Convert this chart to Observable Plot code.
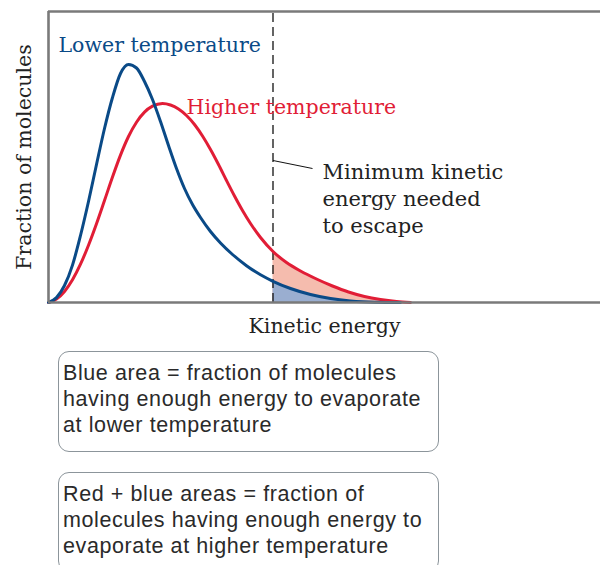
<!DOCTYPE html>
<html>
<head>
<meta charset="utf-8">
<script src="https://cdn.jsdelivr.net/npm/d3@7"></script>
<script src="https://cdn.jsdelivr.net/npm/@observablehq/plot@0.6"></script>
<style>
  html, body { margin: 0; padding: 0; background: #fff; }
  #wrap { position: relative; width: 600px; height: 565px; overflow: hidden; }
  .box {
    position: absolute; left: 58px; width: 381px; box-sizing: border-box;
    border: 1.5px solid #8c959b; border-radius: 11px;
    font-family: "Liberation Sans", Arial, sans-serif; font-size: 21.5px;
    letter-spacing: 0.6px;
    line-height: 26px; color: #2a2a2a; padding: 8px 0 0 4px;
  }
</style>
</head>
<body>
<div id="wrap">
  <div id="chart"></div>
  <div class="box" style="top:351px; height:101px;">Blue area = fraction of molecules<br>having enough energy to evaporate<br>at lower temperature</div>
  <div class="box" style="top:472px; height:100px;">Red + blue areas = fraction of<br>molecules having enough energy to<br>evaporate at higher temperature</div>
</div>
<script>
// Kinetic energy and fraction of molecules, arbitrary units
const energyLow = [0, 8, 16, 24, 32, 40, 48, 56, 64, 72, 80, 88, 96, 104, 112, 120, 128, 136, 144, 152, 162, 172, 184, 198, 212, 224.5, 242, 262, 282, 302, 327, 352];
const fractionLow = [0, 4.9, 17, 37.4, 67, 101, 138, 174, 205, 229, 238, 234.5, 221, 203, 181, 157, 134, 114, 98, 85, 71, 59.5, 48, 36.8, 27.7, 21.2, 14, 8, 4, 1.6, 0.3, 0];
const energyHigh = [0, 8, 16, 24, 32, 40, 48, 56, 64, 72, 80, 88, 96, 104, 114, 122, 130, 138, 146, 154, 162, 170, 178, 186, 194, 202, 212, 224.5, 238, 252, 268, 284, 300, 316, 332, 348, 362];
const fractionHigh = [0, 3.4, 11, 22.7, 38.3, 57.3, 78.8, 102, 125.5, 147.4, 166, 180.3, 190.4, 196.3, 199, 197.5, 193.5, 187, 178, 166.5, 153, 138, 122, 106.5, 92, 79, 65, 51, 40, 31.5, 23.5, 16.5, 10.5, 6, 3, 1, 0];
const threshold = 224.5;
const seriesLabels = ["Lower temperature", "Higher temperature"];
const thresholdLabel = "Minimum kinetic\nenergy needed\nto escape";
const xLabel = "Kinetic energy";
const yLabel = "Fraction of molecules";

const low = energyLow.map((e, i) => ({e, f: fractionLow[i]}));
const high = energyHigh.map((e, i) => ({e, f: fractionHigh[i]}));
const blue = "#0a4a87", red = "#e11d36";
const serif = "DejaVu Serif, serif";

const plot = Plot.plot({
  width: 600,
  height: 345,
  marginLeft: 48,
  marginRight: 0,
  marginTop: 11,
  marginBottom: 43,
  x: {domain: [0, 552], axis: null},
  y: {domain: [0, 291], axis: null},
  style: {fontFamily: serif, background: "transparent"},
  marks: [
    Plot.areaY(high.filter(d => d.e >= threshold), {x: "e", y: "f", fill: "#f5bcae", curve: "monotone-x"}),
    Plot.areaY(low.filter(d => d.e >= threshold), {x: "e", y: "f", fill: "#9aaed0", curve: "monotone-x"}),
    Plot.ruleX([threshold], {y1: 0, y2: 291, stroke: "#111", strokeWidth: 1.3, strokeDasharray: "9,5"}),
    Plot.link([{x1: threshold, y1: 142, x2: 264, y2: 134}], {x1: "x1", y1: "y1", x2: "x2", y2: "y2", stroke: "#111", strokeWidth: 1}),
    Plot.line(high, {x: "e", y: "f", stroke: red, strokeWidth: 3, curve: "monotone-x"}),
    Plot.line(low, {x: "e", y: "f", stroke: blue, strokeWidth: 3, curve: "monotone-x"}),
    Plot.ruleX([0], {stroke: "#7a7a7a", strokeWidth: 2.6}),
    Plot.ruleY([0, 291], {stroke: "#7a7a7a", strokeWidth: 2.6}),
    Plot.text([seriesLabels[0]], {x: 10, y: 251, text: d => d, fill: blue, fontSize: 20.5, textAnchor: "start", lineAnchor: "bottom"}),
    Plot.text([seriesLabels[1]], {x: 138, y: 189, text: d => d, fill: red, fontSize: 20.5, textAnchor: "start", lineAnchor: "bottom"}),
    Plot.text([thresholdLabel], {x: 274, y: 143, text: d => d, fill: "#222", fontSize: 21, lineHeight: 1.3, textAnchor: "start", lineAnchor: "top"}),
    Plot.text([xLabel], {frameAnchor: "bottom", dy: 30, text: d => d, fill: "#222", fontSize: 20.5, textAnchor: "middle"}),
    Plot.text([yLabel], {frameAnchor: "left", dx: -24, dy: 0, rotate: -90, text: d => d, fill: "#222", fontSize: 20.5, textAnchor: "middle"})
  ]
});
document.getElementById("chart").appendChild(plot);
</script>
</body>
</html>
